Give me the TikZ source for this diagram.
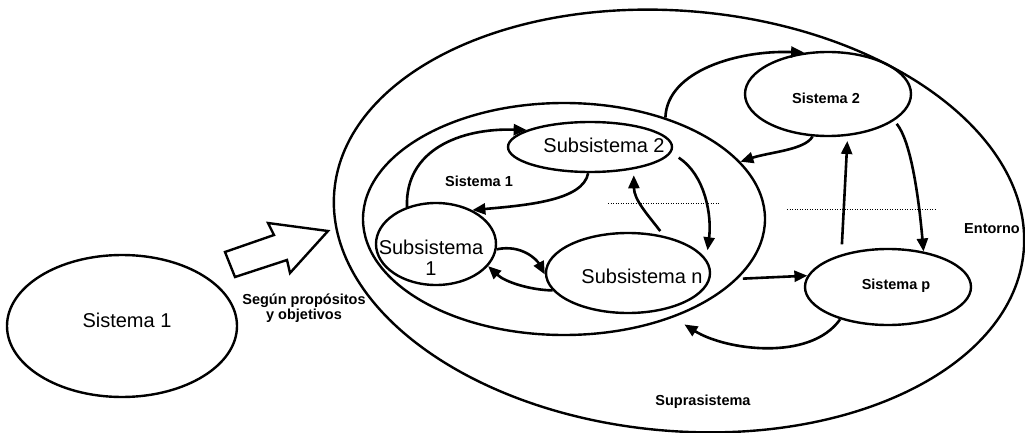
\documentclass[tikz,border=0pt]{standalone}
\usepackage{fontspec}
\setmainfont{Liberation Sans}
\usetikzlibrary{shapes.geometric,arrows.meta}

\begin{document}
\begin{tikzpicture}[x=1pt,y=-1pt,
  oval/.style={draw, ellipse, line width=2.4pt, inner sep=0pt},
  link/.style={line width=2.6pt, -{Triangle[length=13pt,width=11pt]}},
  big/.style={font=\fontsize{20}{21}\selectfont, anchor=base, align=center},
  tag/.style={font=\bfseries\fontsize{14.5}{15}\selectfont, anchor=base, align=center},
  sep/.style={line width=1pt, dash pattern=on 1pt off 1.5pt}
]
\useasboundingbox (0,0) rectangle (1025,433);

% outlines
\node[oval, minimum width=230pt, minimum height=142pt] (sysA) at (122,326) {};
\node[oval, minimum width=692pt, minimum height=420pt, rotate=-5] (supra) at (679,221) {};
\node[oval, minimum width=402pt, minimum height=232pt] (inner) at (564,219) {};
\node[oval, minimum width=164pt, minimum height=50pt] (sub2) at (590,147) {};
\node[oval, minimum width=120pt, minimum height=82pt] (sub1) at (436,244) {};
\node[oval, minimum width=164pt, minimum height=80pt] (subn) at (628,273) {};
\node[oval, minimum width=166pt, minimum height=84pt] (sys2) at (828,94) {};
\node[oval, minimum width=166pt, minimum height=76pt] (sysp) at (888,287) {};

% labels (base anchor sits on the last line of a multi-line label)
\node[big] (tA) at (127,327) {Sistema 1};
\node[big] (t2) at (604,153) {Subsistema 2};
\node[big] (t1) at (431,275) {Subsistema\\1};
\node[big] (tn) at (642,283) {Subsistema n};
\node[tag] (tin) at (479,186) {Sistema 1};
\node[tag] (ts2) at (826,104) {Sistema 2};
\node[tag] (tsp) at (896,289) {Sistema p};
\node[tag] (tent) at (992,233) {Entorno};
\node[tag] (tsup) at (703,405) {Suprasistema};
\node[tag] (tgoal) at (304,319) {Según propósitos\\y objetivos};

% hollow arrow toward the suprasystem
\draw[line width=2.4pt, line join=miter]
  (225,252) -- (274,235) -- (268,223) -- (328,231) -- (290,273)
  -- (287,260) -- (235,277) -- cycle;

% boundary hints
\draw[sep] (608,203) -- (720,203);
\draw[sep] (787,209) -- (935,209);

% exchanges among subsystems
\draw[link] (sub1.128) .. controls (405,150) and (460,128) .. (sub2.165);
\draw[link] (sub2.266) .. controls (583,200) and (530,205) .. (sub1.43);
\draw[link] (sub1.355) .. controls (522,244) and (537,260) .. (subn.181);
\draw[link] (subn.193) .. controls (530,290) and (505,282) .. (sub1.337);
\draw[link, shorten <=6pt, shorten >=6pt] (subn.46) .. controls (648,215) and (634,200) .. (sub2.333);
\draw[link, shorten <=9pt, shorten >=9pt] (sub2.356) .. controls (705,175) and (712,215) .. (subn.10);

% exchanges with the environment
\draw[link] (inner.45) .. controls (667,70) and (740,50) .. (sys2.120);
\draw[link] (sys2.250) .. controls (805,150) and (770,152) .. (inner.18.5);
\draw[link, shorten <=10pt, shorten >=5pt] (sysp.145.5) -- (sys2.295);
\draw[link, shorten <=4pt] (sys2.338) .. controls (910,140) and (918,190) .. (sysp.45.6);
\draw[link, shorten <=5pt] (inner.341) -- (sysp.172);
\draw[link, shorten >=13pt] (sysp.214.5) .. controls (810,362) and (725,350) .. (inner.318);
\end{tikzpicture}
\end{document}
